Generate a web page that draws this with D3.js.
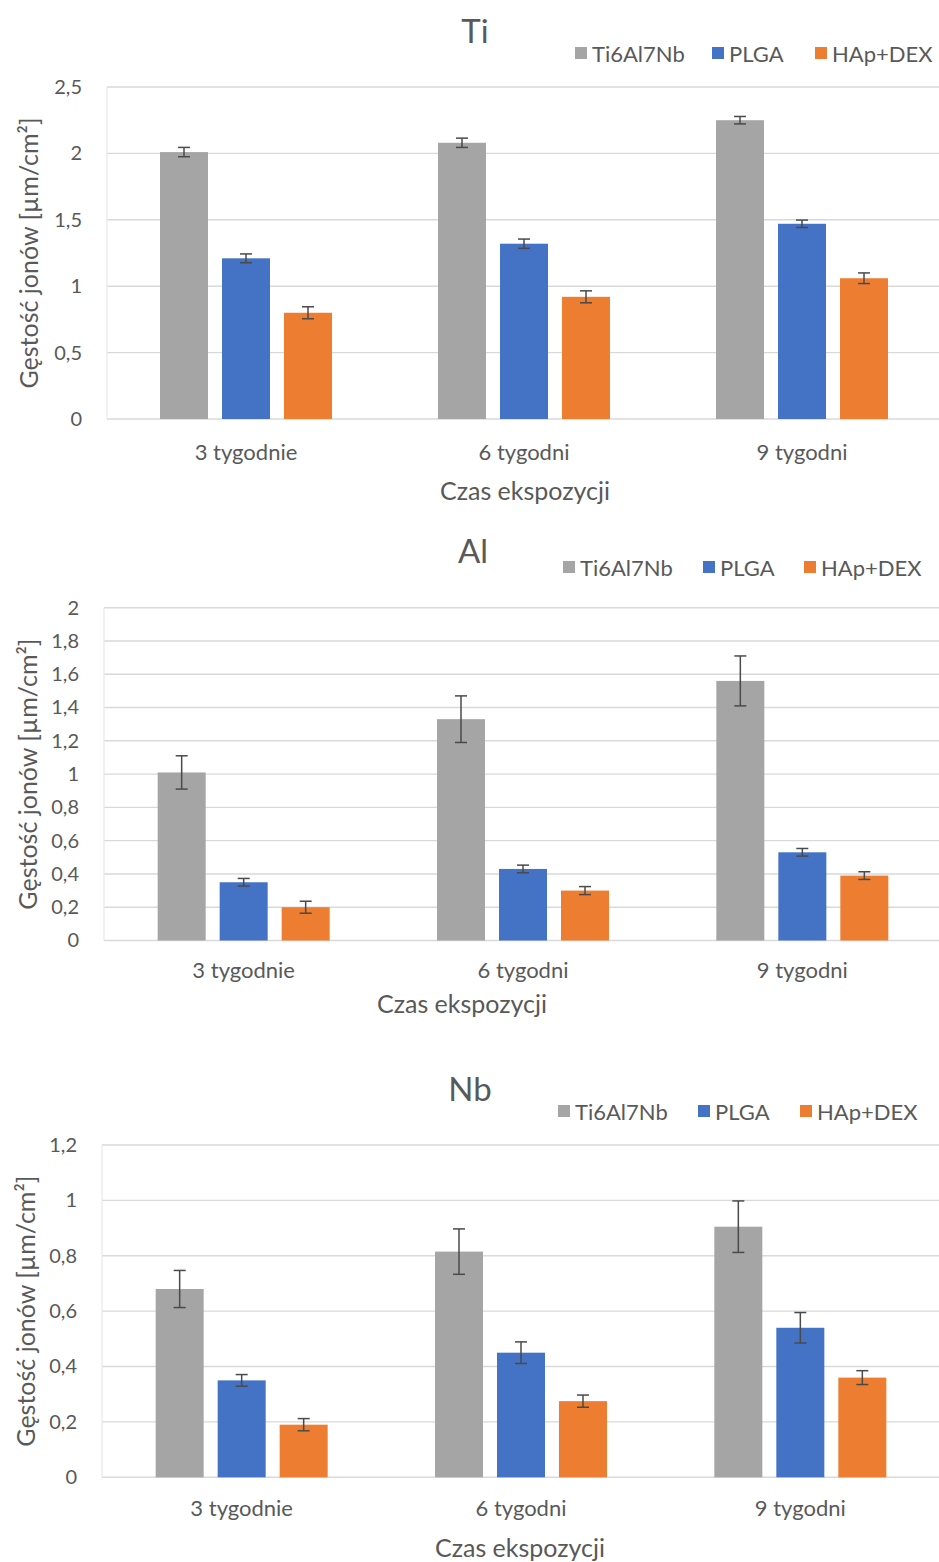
<!DOCTYPE html>
<html lang="pl">
<head>
<meta charset="utf-8">
<script src="https://cdn.jsdelivr.net/npm/d3@7"></script>
<style>
  html, body { margin: 0; padding: 0; background: #ffffff; }
  svg { display: block; font-family: Lato, "Open Sans", sans-serif; }
</style>
</head>
<body>
<svg id="chart" width="939" height="1562"></svg>
<script>
// Categories and series shared by the three panels
const categories = ["3 tygodnie", "6 tygodni", "9 tygodni"];
const seriesNames = ["Ti6Al7Nb", "PLGA", "HAp+DEX"];
const seriesColors = ["#a5a5a5", "#4472c4", "#ed7d31"];

// Ti – one row per series, one value per category
const tiValues = [
  [2.01, 2.08, 2.25],
  [1.21, 1.32, 1.47],
  [0.80, 0.92, 1.06]
];
const tiErrors = [
  [0.035, 0.035, 0.028],
  [0.033, 0.035, 0.028],
  [0.045, 0.045, 0.04]
];
const tiTicks = [0, 0.5, 1, 1.5, 2, 2.5];

// Al
const alValues = [
  [1.01, 1.33, 1.56],
  [0.35, 0.43, 0.53],
  [0.20, 0.30, 0.39]
];
const alErrors = [
  [0.10, 0.14, 0.15],
  [0.023, 0.023, 0.023],
  [0.036, 0.024, 0.023]
];
const alTicks = [0, 0.2, 0.4, 0.6, 0.8, 1, 1.2, 1.4, 1.6, 1.8, 2];

// Nb
const nbValues = [
  [0.68, 0.815, 0.905],
  [0.35, 0.45, 0.54],
  [0.19, 0.275, 0.36]
];
const nbErrors = [
  [0.067, 0.082, 0.093],
  [0.021, 0.039, 0.055],
  [0.022, 0.022, 0.025]
];
const nbTicks = [0, 0.2, 0.4, 0.6, 0.8, 1, 1.2];

const yTitleText = "Gęstość jonów [µm/cm²]";
const xTitleText = "Czas ekspozycji";

const textColor = "#595959";
const gridColor = "#d9d9d9";
const errColor = "#4a4a4a";
const fmt = d => String(d).replace(".", ",");

// Panel layout
const panels = [
  { title: "Ti", values: tiValues, errors: tiErrors, ticks: tiTicks,
    left: 107, right: 941, top: 87, bottom: 419, xPad: 25,
    titleX: 475, titleY: 30, legendY: 53, legendX: [575, 712, 815],
    xTitleX: 525, xTitleY: 490, yTitleX: 28 },
  { title: "Al", values: alValues, errors: alErrors, ticks: alTicks,
    left: 104, right: 942, top: 607.7, bottom: 940.5, xPad: 22,
    titleX: 473, titleY: 550, legendY: 567, legendX: [563, 703, 804],
    xTitleX: 462, xTitleY: 1003, yTitleX: 27 },
  { title: "Nb", values: nbValues, errors: nbErrors, ticks: nbTicks,
    left: 102, right: 940, top: 1145, bottom: 1477.3, xPad: 23,
    titleX: 470, titleY: 1088, legendY: 1111, legendX: [558, 698, 800],
    xTitleX: 520, xTitleY: 1547, yTitleX: 25 }
];

const svg = d3.select("#chart");

panels.forEach(p => {
  const g = svg.append("g");
  const yMax = p.ticks[p.ticks.length - 1];

  const y = d3.scaleLinear().domain([0, yMax]).range([p.bottom, p.top]);
  const x0 = d3.scaleBand().domain(categories).range([p.left, p.right]).padding(0);
  const groupW = 172;
  const x1 = d3.scaleBand().domain(seriesNames)
    .range([(x0.bandwidth() - groupW) / 2, (x0.bandwidth() + groupW) / 2])
    .paddingInner(14 / 62).paddingOuter(0);

  // horizontal gridlines (the zero line doubles as the category axis)
  g.append("g").selectAll("line").data(p.ticks).join("line")
    .attr("x1", p.left).attr("x2", p.right)
    .attr("y1", d => y(d)).attr("y2", d => y(d))
    .attr("stroke", gridColor).attr("stroke-width", 1.4);

  // left border of the plot area
  g.append("line")
    .attr("x1", p.left).attr("x2", p.left)
    .attr("y1", y(yMax)).attr("y2", y(0))
    .attr("stroke", "#e8e8e8").attr("stroke-width", 1.2);

  // value axis labels
  const yAxis = g.append("g")
    .attr("transform", `translate(${p.left},0)`)
    .call(d3.axisLeft(y).tickValues(p.ticks).tickFormat(fmt).tickSize(0).tickPadding(25));
  yAxis.select(".domain").remove();
  yAxis.selectAll("text").attr("fill", textColor).attr("font-size", 20)
    .attr("font-family", "Lato, 'Open Sans', sans-serif");

  // category axis labels
  const xAxis = g.append("g")
    .attr("transform", `translate(0,${p.bottom})`)
    .call(d3.axisBottom(x0).tickSize(0).tickPadding(p.xPad));
  xAxis.select(".domain").remove();
  xAxis.selectAll("text").attr("fill", textColor).attr("font-size", 22)
    .attr("font-family", "Lato, 'Open Sans', sans-serif");

  // bars
  const rows = [];
  seriesNames.forEach((s, si) => {
    categories.forEach((c, ci) => {
      rows.push({ s, si, c, v: p.values[si][ci], e: p.errors[si][ci] });
    });
  });

  g.append("g").selectAll("rect").data(rows).join("rect")
    .attr("x", d => x0(d.c) + x1(d.s))
    .attr("width", x1.bandwidth())
    .attr("y", d => y(d.v))
    .attr("height", d => y(0) - y(d.v))
    .attr("fill", d => seriesColors[d.si]);

  // error bars
  const eb = g.append("g").attr("stroke", errColor).attr("stroke-width", 1.5).attr("fill", "none");
  const cap = 6;
  rows.forEach(d => {
    const cx = x0(d.c) + x1(d.s) + x1.bandwidth() / 2;
    const yt = y(d.v + d.e), yb = y(d.v - d.e);
    eb.append("line").attr("x1", cx).attr("x2", cx).attr("y1", yt).attr("y2", yb);
    eb.append("line").attr("x1", cx - cap).attr("x2", cx + cap).attr("y1", yt).attr("y2", yt);
    eb.append("line").attr("x1", cx - cap).attr("x2", cx + cap).attr("y1", yb).attr("y2", yb);
  });

  // chart title
  g.append("text")
    .attr("x", p.titleX).attr("y", p.titleY)
    .attr("text-anchor", "middle").attr("dominant-baseline", "central")
    .attr("font-size", 33).attr("fill", textColor)
    .text(p.title);

  // legend
  const lg = g.append("g");
  seriesNames.forEach((s, si) => {
    const lx = p.legendX[si];
    lg.append("rect")
      .attr("x", lx).attr("y", p.legendY - 6)
      .attr("width", 12).attr("height", 12)
      .attr("fill", seriesColors[si]);
    lg.append("text")
      .attr("x", lx + 17).attr("y", p.legendY)
      .attr("dominant-baseline", "central")
      .attr("font-size", 22).attr("fill", textColor)
      .text(s);
  });

  // axis titles
  g.append("text")
    .attr("x", p.xTitleX).attr("y", p.xTitleY)
    .attr("text-anchor", "middle").attr("dominant-baseline", "central")
    .attr("font-size", 25).attr("fill", textColor)
    .text(xTitleText);

  g.append("text")
    .attr("transform", `translate(${p.yTitleX},${(p.top + p.bottom) / 2}) rotate(-90)`)
    .attr("text-anchor", "middle").attr("dominant-baseline", "central")
    .attr("font-size", 25).attr("fill", textColor)
    .text(yTitleText);
});
</script>
</body>
</html>
